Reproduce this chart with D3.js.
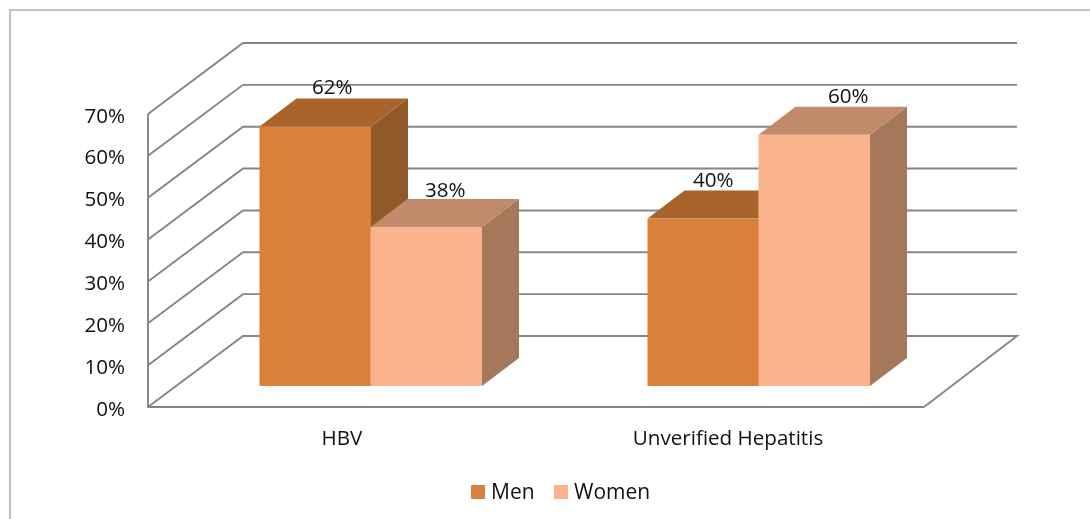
<!DOCTYPE html>
<html><head><meta charset="utf-8">
<script src="https://cdn.jsdelivr.net/npm/d3@7"></script>
<style>html,body{margin:0;padding:0;background:#fff}svg{display:block;filter:blur(0.35px)}text{font-family:"Open Sans",sans-serif;fill:#111}</style>
</head><body><svg id="c" width="1090" height="519"></svg>
<script>
const categories = ["HBV", "Unverified Hepatitis"];
const seriesNames = ["Men", "Women"];
const men = [62, 40];
const women = [38, 60];
const labels = ["62%", "38%", "40%", "60%"];
const tickValues = [0, 10, 20, 30, 40, 50, 60, 70];

const svg = d3.select("#c");
const frontBase = 407, frontTop = 114, left = 148, right = 924;
const dx = 95, dy = 71;
const barDx = 37, barDy = 28, barPlaneX = 28.5, barBase = 386;
const fontSize = 20.6;

const y = d3.scaleLinear().domain([0, 70]).range([frontBase, frontTop]);
const h = v => y(0) - y(v);
const cat = d3.scaleBand().domain(categories).range([left, right]);
const sub = d3.scalePoint().domain(seriesNames).range([-111, 0]);

const colors = {Men:{front:"#d8803c",top:"#a9642b",side:"#8f5a28"},Women:{front:"#fbb38e",top:"#c08a6b",side:"#a5785b"}};

// chart frame: only its top and left edges fall inside the picture
svg.append("path").attr("d", d3.line()([[10,519],[10,10],[1090,10]]))
  .attr("fill","none").attr("stroke","#b0b0b0").attr("stroke-width",1.6);

const grid = svg.append("g").attr("fill","none").attr("stroke","#858585").attr("stroke-width",1.9);
tickValues.forEach(t=>{
  grid.append("path").attr("d", t===0
    ? d3.line()([[left,y(0)],[left+dx,y(0)-dy],[right+dx-2,y(0)-dy],[right,y(0)]])
    : d3.line()([[left,y(t)],[left+dx,y(t)-dy],[right+dx-2,y(t)-dy]]));
});
grid.append("path").attr("d", d3.line()([[left,y(70)],[left,y(0)],[right,y(0)]]));

const axis = d3.axisLeft(y).tickValues(tickValues).tickFormat(d=>d+"%").tickSize(0).tickPadding(23);
const ag = svg.append("g").attr("transform",`translate(${left},1.5)`).call(axis);
ag.select(".domain").remove();
ag.selectAll("text").attr("font-size",fontSize).style("font-family",'"Open Sans",sans-serif').attr("fill","#111");

const bars = [];
categories.forEach((c,i)=>{
  bars.push({c,s:"Men",v:men[i],label:labels[i*2]});
  bars.push({c,s:"Women",v:women[i],label:labels[i*2+1]});
});
const barW = 111.5;
const bx = d => cat(d.c)+cat.bandwidth()/2+barPlaneX+sub(d.s);
const g = svg.append("g");
bars.forEach(d=>{
  const x0=bx(d), x1=x0+barW, yb=barBase, yt=barBase-h(d.v);
  const col=colors[d.s];
  g.append("path").attr("fill",col.side).attr("d",d3.line()([[x1,yb],[x1+barDx,yb-barDy],[x1+barDx,yt-barDy],[x1,yt]])+"Z");
  g.append("path").attr("fill",col.top).attr("d",d3.line()([[x0,yt],[x0+barDx,yt-barDy],[x1+barDx,yt-barDy],[x1,yt]])+"Z");
  g.append("rect").attr("x",x0).attr("y",yt).attr("width",barW).attr("height",h(d.v)).attr("fill",col.front);
});

// data labels sit at slightly different offsets in the original
const labelNudgeX = [17, 19, 10, 34];
const labelGap = [32, 30, 32, 32];
const lab = svg.append("g").attr("text-anchor","middle").attr("font-size",fontSize);
bars.forEach((d,i)=>{
  lab.append("text").attr("x",bx(d)+barW/2+labelNudgeX[i]).attr("y",barBase-h(d.v)-labelGap[i]).text(d.label);
});

const catNudge = [0, -2];
const cg = svg.append("g").attr("text-anchor","middle").attr("font-size",fontSize);
categories.forEach((c,i)=>{
  cg.append("text").attr("x",cat(c)+cat.bandwidth()/2+catNudge[i]).attr("y",445).text(c);
});

const legendX = {Men:471,Women:554};
const lg = svg.append("g").attr("font-size",21);
seriesNames.forEach(s=>{
  lg.append("rect").attr("x",legendX[s]).attr("y",485).attr("width",14).attr("height",14).attr("fill",colors[s].front);
  lg.append("text").attr("x",legendX[s]+20).attr("y",499).text(s);
});
</script></body></html>
